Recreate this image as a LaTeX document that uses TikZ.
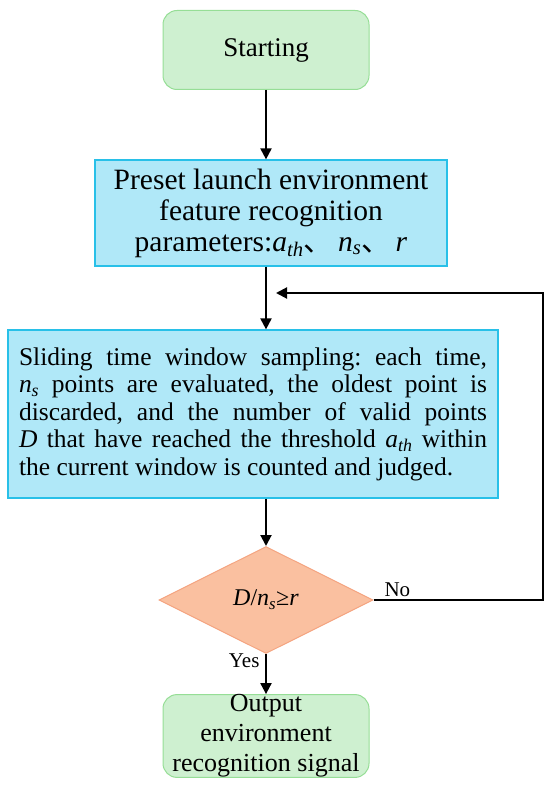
\documentclass[tikz,border=0pt]{standalone}
\usepackage{fontspec}
\setmainfont{Liberation Serif}
\newfontfamily\cjkfont{Noto Sans CJK SC}
\usetikzlibrary{arrows.meta,shapes.geometric}
\definecolor{gfill}{RGB}{206,240,208}
\definecolor{gdraw}{RGB}{150,222,150}
\definecolor{bfill}{RGB}{176,232,248}
\definecolor{bdraw}{RGB}{40,192,232}
\definecolor{dfill}{RGB}{250,192,160}
\definecolor{ddraw}{RGB}{244,164,128}
\frenchspacing
\newcommand{\ath}{\textit{a}\textsubscript{\textit{th}}}
\newcommand{\nsub}{\textit{n}\textsubscript{\textit{s}}}
\newcommand{\fullline}[1]{\makebox[468pt][s]{#1}}
\tikzset{
  x=1pt, y=-1pt,
  termbox/.style={draw=gdraw, fill=gfill, line width=1pt, rounded corners=14pt, minimum width=206pt, minimum height=79pt, align=center, inner sep=0pt, font=\fontsize{27}{30}\selectfont},
  procbox/.style={draw=bdraw, fill=bfill, line width=1.2pt, inner sep=0pt},
  decbox/.style={draw=ddraw, fill=dfill, line width=1pt, diamond, aspect=2, minimum width=214pt, minimum height=107pt, inner sep=0pt, font=\fontsize{24}{26}\selectfont},
  flow/.style={line width=2pt, -{Triangle[width=11pt,length=11pt]}},
  lbl/.style={font=\fontsize{21}{23}\selectfont}
}
\begin{document}
\begin{tikzpicture}
\useasboundingbox (0,0) rectangle (550,789);
\node[termbox] (start) at (266,50) {Starting};
\node[procbox, minimum width=352pt, minimum height=106pt, align=center, font=\fontsize{29.5}{31}\selectfont] (preset) at (271,213)
  {Preset launch environment\\feature recognition\\parameters:\ath{\cjkfont 、}\,\nsub{\cjkfont 、}\,\textit{r}};
\node[procbox, minimum width=490pt, minimum height=168pt, align=left, font=\fontsize{25.5}{27.5}\selectfont] (slide) at (253,414)
  {\fullline{Sliding time window sampling: each time,}\\
   \fullline{\nsub{} points are evaluated, the oldest point is}\\
   \fullline{discarded, and the number of valid points}\\
   \fullline{\textit{D} that have reached the threshold \ath{} within}\\
   the current window is counted and judged.};
\node[decbox] (dec) at (266,600) {\textit{D}/\nsub≥\textit{r}};
\node[termbox, font=\fontsize{26}{30}\selectfont] (end) at (266,736) {Output\\environment\\recognition signal};
\coordinate (c1) at (543,600);
\coordinate (c2) at (543,293);
\coordinate (c3) at (276,293);
\draw[flow] (start) -- (start.south |- preset.north);
\draw[flow] (preset.south -| dec.north) -- (slide.north -| dec.north);
\draw[flow] (dec.east) -- (c1) -- (c2) -- (c3);
\draw[flow] (slide.south -| dec.north) -- (dec.north);
\draw[flow] (dec.south) -- (end.north);
\node[lbl, anchor=south west] (no) at (381,600) {No};
\node[lbl, anchor=north east] (yes) at (263,650) {Yes};
\end{tikzpicture}
\end{document}
